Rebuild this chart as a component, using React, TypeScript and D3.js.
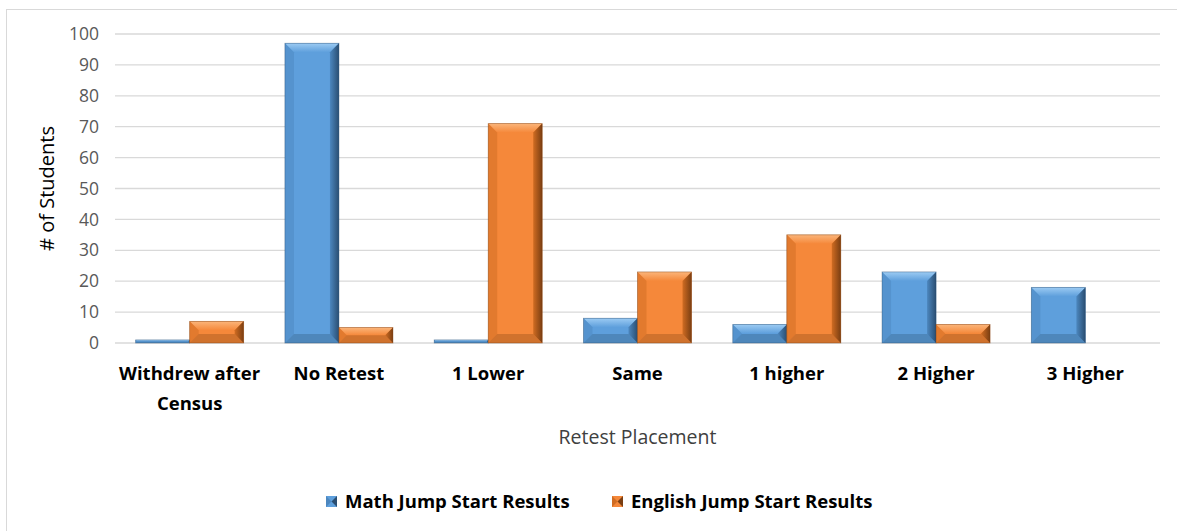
import React from "react";
import * as d3 from "d3";

const categories = ["Withdrew after|Census", "No Retest", "1 Lower", "Same", "1 higher", "2 Higher", "3 Higher"];
const mathValues = [1, 97, 1, 8, 6, 23, 18];
const englishValues = [7, 5, 71, 23, 35, 6, 0];
const yTicks = [0, 10, 20, 30, 40, 50, 60, 70, 80, 90, 100];
const seriesNames = ["Math Jump Start Results", "English Jump Start Results"];

const W = 1177, H = 531;
const M = { left: 115, right: 1160, top: 34, bottom: 343 };
const FONT = "'Open Sans', Lato, sans-serif";

const colors = [
  { base: "#5E9FDC", light: "#9CCBF3", dark: "#2A4E72", side: "#4C87BF" },
  { base: "#F5883A", light: "#FBB57A", dark: "#7A3E12", side: "#D06C22" },
];

function BevelBar({ x, y, w, h, c, id }: { x: number; y: number; w: number; h: number; c: typeof colors[0]; id: string }) {
  if (h <= 0) return null;
  const b = Math.min(9, h / 2, w / 2);
  const x1 = x + w, y1 = y + h;
  return (
    <g>
      <rect x={x} y={y} width={w} height={h} fill={c.base} />
      <polygon points={`${x},${y} ${x1},${y} ${x1 - b},${y + b} ${x + b},${y + b}`} fill={`url(#top${id})`} />
      <polygon points={`${x},${y} ${x + b},${y + b} ${x + b},${y1 - b} ${x},${y1}`} fill={c.side} opacity={0.5} />
      <polygon points={`${x1},${y} ${x1},${y1} ${x1 - b},${y1 - b} ${x1 - b},${y + b}`} fill={`url(#right${id})`} />
      <polygon points={`${x},${y1} ${x + b},${y1 - b} ${x1 - b},${y1 - b} ${x1},${y1}`} fill={c.dark} opacity={0.3} />
      <rect x={x} y={y} width={w} height={h} fill="none" stroke={c.dark} strokeOpacity={0.5} strokeWidth={0.8} />
    </g>
  );
}

export default function App() {
  const x = d3.scaleBand<number>().domain(d3.range(categories.length)).range([M.left, M.right]).paddingInner(0).paddingOuter(0);
  const y = d3.scaleLinear().domain([0, 100]).range([M.bottom, M.top]);
  const bw = 54;
  const series = [mathValues, englishValues];

  return (
    <svg width={W} height={H} style={{ position: "absolute", left: 0, top: 0, background: "#fff" }} fontFamily={FONT}>
      <defs>
        {colors.map((c, i) => (
          <React.Fragment key={i}>
            <linearGradient id={`top${i}`} x1="0" y1="0" x2="0" y2="1">
              <stop offset="0" stopColor={c.light} />
              <stop offset="1" stopColor={c.base} />
            </linearGradient>
            <linearGradient id={`right${i}`} x1="0" y1="0" x2="1" y2="0">
              <stop offset="0" stopColor={c.side} />
              <stop offset="1" stopColor={c.dark} />
            </linearGradient>
          </React.Fragment>
        ))}
      </defs>
      <rect x={6.5} y={9.5} width={1180} height={540} fill="#fff" stroke="#d9d9d9" strokeWidth={1} />
      {yTicks.map((t) => (
        <g key={t}>
          <line x1={M.left} x2={M.right} y1={y(t)} y2={y(t)} stroke="#d9d9d9" strokeWidth={1.3} />
          <text x={99} y={y(t)} dy="0.35em" textAnchor="end" fontSize={17.5} fill="#595959">{t}</text>
        </g>
      ))}
      {categories.map((cat, i) => {
        const cx = x(i)! + x.bandwidth() / 2;
        return (
          <g key={cat}>
            {series.map((vals, s) => (
              <BevelBar key={s} id={String(s)} x={cx - bw + s * bw} y={y(vals[i])} w={bw} h={y(0) - y(vals[i])} c={colors[s]} />
            ))}
            {cat.split("|").map((line, li) => (
              <text key={li} x={cx} y={380 + li * 30} textAnchor="middle" fontSize={18.5} fontWeight="bold" fill="#000">{line}</text>
            ))}
          </g>
        );
      })}
      <text x={(M.left + M.right) / 2} y={444} textAnchor="middle" fontSize={19.5} fill="#404040">Retest Placement</text>
      <text transform={`translate(54, ${(M.top + M.bottom) / 2}) rotate(-90)`} textAnchor="middle" fontSize={20} fill="#000">
        # of Students
      </text>
      {seriesNames.map((name, s) => {
        const lx = s === 0 ? 326 : 612;
        return (
          <g key={name}>
            <rect x={lx} y={496} width={11} height={11} fill={colors[s].base} />
            <polygon points={`${lx},${496} ${lx + 5.5},${501.5} ${lx},${507}`} fill={colors[s].side} />
            <polygon points={`${lx + 11},${496} ${lx + 5.5},${501.5} ${lx + 11},${507}`} fill={colors[s].dark} />
            <text x={lx + 19} y={501.5} dy="0.35em" fontSize={18.5} fontWeight="bold" fill="#000">{name}</text>
          </g>
        );
      })}
    </svg>
  );
}
